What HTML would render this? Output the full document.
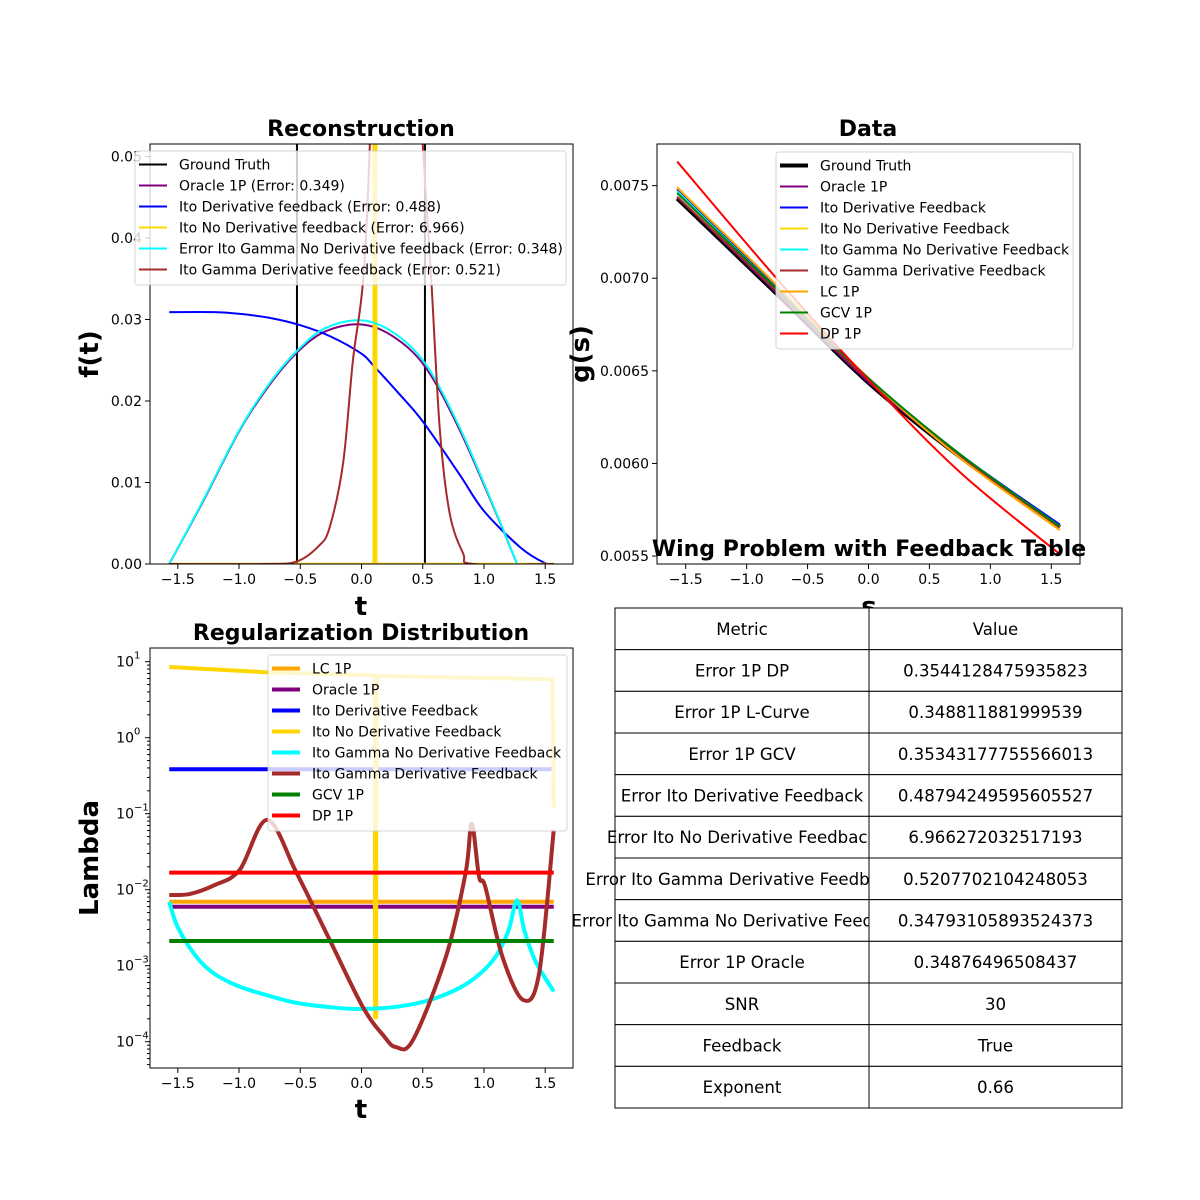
<!DOCTYPE html>
<html><head><meta charset="utf-8"><style>
html,body{margin:0;padding:0;background:#fff;}
svg{display:block;font-family:"DejaVu Sans","Liberation Sans",sans-serif;}
</style></head><body>
<svg id="fig" width="1200" height="1200" viewBox="0 0 1200 1200" xmlns="http://www.w3.org/2000/svg">
<rect width="1200" height="1200" fill="#fff"/>
</svg>
<script>
// ---------- data ----------
const tGT = [-1.57,-0.527,-0.527,0.518,0.518,1.57];
const fGT = [0,0,0.07,0.07,0,0];
const tOracle = [-1.57,-1.3,-0.995,-0.75,-0.53,-0.3,-0.01,0.25,0.52,0.8,1.1,1.27];
const fOracle = [0,0.0075,0.0164,0.0220,0.0259,0.0285,0.0294,0.0280,0.0242,0.0165,0.0062,0];
const fCyan   = [0,0.0076,0.0165,0.0222,0.0261,0.0289,0.0299,0.0285,0.0246,0.0168,0.0063,0];
const tBlue = [-1.57,-1.2,-1.0,-0.75,-0.5,-0.25,0,0.1,0.3,0.5,0.8,1.0,1.3,1.5,1.57];
const fBlue = [0.0309,0.0309,0.0307,0.0302,0.0293,0.0279,0.0258,0.0243,0.021,0.0175,0.011,0.0065,0.002,0.0001,0];
const tYellow = [-1.57,0.10,0.10,0.12,0.12,1.57];
const fYellow = [0,0,0.07,0.07,0,0];
const tBrown = [-1.57,-0.8,-0.53,-0.35,-0.26,-0.15,-0.07,0.013,0.068,0.15,0.28,0.4,0.5,0.57,0.64,0.72,0.83,0.91,1.57];
const fBrown = [0,0,0.0003,0.0022,0.0045,0.0124,0.025,0.0348,0.0515,0.09,0.1,0.08,0.0515,0.0348,0.0164,0.0062,0.0013,0,0];

const sData = [-1.57,-0.75,0,0.75,1.57];
const gGT   = [0.00743,0.006913,0.006435,0.006036,0.005657];
const gOracle=[0.00744,0.00692,0.00644,0.00604,0.005655];
const gBlue = [0.00748,0.00695,0.00646,0.00605,0.00567];
const gYellow=[0.00749,0.00696,0.00646,0.00604,0.00564];
const gCyan = [0.00747,0.00694,0.00646,0.00605,0.00566];
const gBrown= [0.00744,0.00693,0.00645,0.00604,0.005655];
const gLC   = [0.00749,0.00696,0.00646,0.00603,0.00564];
const gGCV  = [0.00746,0.00694,0.00646,0.00605,0.00566];
const gDP   = [0.00763,0.006996,0.006451,0.005953,0.00551];

const lamT = [-1.57,1.57];
const lamLC = [0.00695,0.00695];
const lamOracle = [0.00597,0.00597];
const lamBlue = [0.384,0.384];
const lamGCV = [0.00211,0.00211];
const lamDP = [0.0168,0.0168];
const tYel = [-1.57,-0.8,0.1,0.11,0.11,0.12,0.12,0.8,1.56,1.57];
const lamYel = [8.5,7.3,6.6,6.6,0.00021,0.00021,6.5,6.2,5.87,0.12];
const tCy = [-1.57,-1.5,-1.35,-1.2,-0.995,-0.75,-0.53,-0.25,-0.01,0.3,0.56,0.8,0.97,1.1,1.2,1.27,1.33,1.42,1.57];
const lamCy = [0.00695,0.0032,0.00132,0.00078,0.00053,0.0004,0.000324,0.000284,0.000269,0.00029,0.000355,0.00051,0.00079,0.00135,0.0029,0.00724,0.0029,0.00115,0.000457];
const tBr = [-1.57,-1.4,-1.2,-0.995,-0.77,-0.53,-0.26,0.01,0.18,0.28,0.42,0.69,0.85,0.90,0.96,1.01,1.15,1.32,1.45,1.57];
const lamBr = [0.0085,0.0088,0.0115,0.0182,0.083,0.0166,0.00219,0.000288,0.00012,0.0000851,0.000105,0.00132,0.0166,0.074,0.0148,0.011,0.00132,0.000355,0.00079,0.0617];

const xTicks = [-1.5,-1.0,-0.5,0.0,0.5,1.0,1.5];
const fTicks = [0,0.01,0.02,0.03,0.04,0.05];
const gTicks = [0.0055,0.0060,0.0065,0.0070,0.0075];
const lamTicks = [-4,-3,-2,-1,0,1];
const tableMetrics = ["Metric","Error 1P DP","Error 1P L-Curve","Error 1P GCV","Error Ito Derivative Feedback","Error Ito No Derivative Feedback","Error Ito Gamma Derivative Feedback","Error Ito Gamma No Derivative Feedback","Error 1P Oracle","SNR","Feedback","Exponent"];
const tableValues = ["Value","0.3544128475935823","0.348811881999539","0.35343177755566013","0.48794249595605527","6.966272032517193","0.5207702104248053","0.34793105893524373","0.34876496508437","30","True","0.66"];

// ---------- helpers ----------
const NS="http://www.w3.org/2000/svg";
const fig=document.getElementById('fig');
function el(tag,attrs,parent,text){const e=document.createElementNS(NS,tag);for(const k in attrs)e.setAttribute(k,attrs[k]);if(text!==undefined)e.textContent=text;(parent||fig).appendChild(e);return e;}
function fmt(v,d){return (v<0?'\u2212':'')+Math.abs(v).toFixed(d);}

function axes(id,x0,y0,w,h,xmin,xmax,ymin,ymax,ylog){
  const g=el('g',{});
  
  
  const clip=el('clipPath',{id:id+'-clip'},g);el('rect',{x:x0,y:y0,width:w,height:h},clip);
  const X=v=>x0+(v-xmin)/(xmax-xmin)*w;
  const Y=v=>{const t=ylog?Math.log10(v):v;return y0+h-(t-ymin)/(ymax-ymin)*h;};
  const plot=el('g',{'clip-path':'url(#'+id+'-clip)'},g);
  return {g,X,Y,plot,x0,y0,w,h};
}
function line(ax,xs,ys,color,width,name,smooth){
  const P=xs.map((x,i)=>[ax.X(x),ax.Y(ys[i])]);
  let d='M'+P[0][0].toFixed(2)+','+P[0][1].toFixed(2);
  for(let i=0;i<P.length-1;i++){
    if(!smooth){d+='L'+P[i+1][0].toFixed(2)+','+P[i+1][1].toFixed(2);continue;}
    const p0=P[Math.max(0,i-1)],p1=P[i],p2=P[i+1],p3=P[Math.min(P.length-1,i+2)];
    const c1=[p1[0]+(p2[0]-p0[0])/6,p1[1]+(p2[1]-p0[1])/6];
    const c2=[p2[0]-(p3[0]-p1[0])/6,p2[1]-(p3[1]-p1[1])/6];
    d+='C'+c1[0].toFixed(2)+','+c1[1].toFixed(2)+' '+c2[0].toFixed(2)+','+c2[1].toFixed(2)+' '+p2[0].toFixed(2)+','+p2[1].toFixed(2);
  }
  const p=el('path',{d:d,fill:'none',stroke:color,'stroke-width':width,'stroke-linejoin':'round'},ax.plot);
  
  
}
function frame(ax){el('rect',{x:ax.x0,y:ax.y0,width:ax.w,height:ax.h,fill:'none',stroke:'#000','stroke-width':1},ax.g);}
function xticks(ax,ticks){
  ticks.forEach(v=>{const x=ax.X(v);el('line',{x1:x,x2:x,y1:ax.y0+ax.h,y2:ax.y0+ax.h+5,stroke:'#000'},ax.g);
  const t=el('text',{x:x,y:ax.y0+ax.h+20,'font-size':14,'text-anchor':'middle'},ax.g,fmt(v,1));
  });
}
function yticks(ax,ticks,d){
  ticks.forEach(v=>{const y=ax.Y(v);el('line',{x1:ax.x0-5,x2:ax.x0,y1:y,y2:y,stroke:'#000'},ax.g);
  const t=el('text',{x:ax.x0-8,y:y+5,'font-size':14,'text-anchor':'end'},ax.g,v.toFixed(d));
  });
}
function legend(x,y,w,rowH,items,lw,name){
  const g=el('g',{});
  
  
  el('rect',{x:x,y:y,width:w,height:rowH*items.length+8,rx:3,fill:'#fff','fill-opacity':0.8,stroke:'#ccc','stroke-opacity':0.8},g);
  items.forEach((it,i)=>{const cy=y+4+rowH*(i+0.5)-1;
    el('line',{x1:x+4,x2:x+32,y1:cy,y2:cy,stroke:it[1],'stroke-width':it[2]||lw},g);
    const t=el('text',{x:x+44,y:cy+5,'font-size':14},g,it[0]);
    });
}
function title(x,y,s,size,name){const t=el('text',{x:x,y:y,'font-size':size,'font-weight':'bold','text-anchor':'middle'},fig,s);
  return t;}

// ---------- reconstruction ----------
const a1=axes('reconstruction',150,144,423,420,-1.727,1.727,0,0.05153,false);
line(a1,tGT,fGT,'#000',2,'ground-truth-line',false);
line(a1,tOracle,fOracle,'purple',2,'oracle-line',true);
line(a1,tBlue,fBlue,'blue',2,'ito-derivative-line',true);
line(a1,tYellow,fYellow,'gold',2.5,'ito-no-derivative-line',false);
line(a1,tOracle,fCyan,'cyan',2,'gamma-no-derivative-line',true);
line(a1,tBrown,fBrown,'brown',2,'gamma-derivative-line',true);
frame(a1);xticks(a1,xTicks);yticks(a1,fTicks,2);
legend(135,151,431,21,[['Ground Truth','#000'],['Oracle 1P (Error: 0.349)','purple'],['Ito Derivative feedback (Error: 0.488)','blue'],['Ito No Derivative feedback (Error: 6.966)','gold'],['Error Ito Gamma No Derivative feedback (Error: 0.348)','cyan'],['Ito Gamma Derivative feedback (Error: 0.521)','brown']],2,'reconstruction-legend');
title(361,136,'Reconstruction',22,'reconstruction-title');
title(361,615,'t',26,'x-axis-title');
let t1=title(0,0,'f(t)',26,'y-axis-title');t1.setAttribute('transform','translate(98,354) rotate(-90)');

// ---------- data ----------
const a2=axes('data',657,144,423,420,-1.7355,1.7355,0.005457,0.0077249,false);
line(a2,sData,gGT,'#000',4,'data-ground-truth-line',true);
line(a2,sData,gOracle,'purple',2,'data-oracle-line',true);
line(a2,sData,gBlue,'blue',2,'data-ito-derivative-line',true);
line(a2,sData,gYellow,'gold',2,'data-ito-no-derivative-line',true);
line(a2,sData,gCyan,'cyan',2,'data-gamma-no-derivative-line',true);
line(a2,sData,gBrown,'brown',2,'data-gamma-derivative-line',true);
line(a2,sData,gLC,'orange',2,'data-lc-line',true);
line(a2,sData,gGCV,'green',2,'data-gcv-line',true);
line(a2,sData,gDP,'red',2,'data-dp-line',true);
frame(a2);xticks(a2,xTicks);yticks(a2,gTicks,4);
legend(776,152,297,21,[['Ground Truth','#000',4],['Oracle 1P','purple'],['Ito Derivative Feedback','blue'],['Ito No Derivative Feedback','gold'],['Ito Gamma No Derivative Feedback','cyan'],['Ito Gamma Derivative Feedback','brown'],['LC 1P','orange'],['GCV 1P','green'],['DP 1P','red']],2,'data-legend');
title(868,136,'Data',22,'data-title');
title(869,615,'s',26,'data-x-axis-title');
let t2=title(0,0,'g(s)',26,'data-y-axis-title');t2.setAttribute('transform','translate(589,354) rotate(-90)');

// ---------- regularization ----------
const a3=axes('regularization',150,648,423,420,-1.727,1.727,-4.346,1.180,true);
line(a3,lamT,lamLC,'orange',4,'lambda-lc-line',false);
line(a3,lamT,lamOracle,'purple',4,'lambda-oracle-line',false);
line(a3,lamT,lamBlue,'blue',4,'lambda-ito-derivative-line',false);
line(a3,tYel,lamYel,'gold',4,'lambda-ito-no-derivative-line',false);
line(a3,tCy,lamCy,'cyan',4,'lambda-gamma-no-derivative-line',true);
line(a3,tBr,lamBr,'brown',4,'lambda-gamma-derivative-line',true);
line(a3,lamT,lamGCV,'green',4,'lambda-gcv-line',false);
line(a3,lamT,lamDP,'red',4,'lambda-dp-line',false);
frame(a3);xticks(a3,xTicks);
for(let d=-5;d<=1;d++){for(let m=2;m<=9;m++){const v=m*Math.pow(10,d);const y=a3.Y(v);if(y>=a3.y0&&y<=a3.y0+a3.h)el('line',{x1:a3.x0-3,x2:a3.x0,y1:y,y2:y,stroke:'#000'},a3.g);}}
lamTicks.forEach(e=>{const y=a3.Y(Math.pow(10,e));el('line',{x1:a3.x0-5,x2:a3.x0,y1:y,y2:y,stroke:'#000'},a3.g);
  const t=el('text',{x:a3.x0-16,y:y+5,'font-size':14,'text-anchor':'end'},a3.g,'10');
  
  el('text',{x:a3.x0-16,y:y-3,'font-size':10},a3.g,e<0?'\u2212'+(-e):String(e));});
legend(268,655,299,21,[['LC 1P','orange'],['Oracle 1P','purple'],['Ito Derivative Feedback','blue'],['Ito No Derivative Feedback','gold'],['Ito Gamma No Derivative Feedback','cyan'],['Ito Gamma Derivative Feedback','brown'],['GCV 1P','green'],['DP 1P','red']],4,'regularization-legend');
title(361,640,'Regularization Distribution',22,'regularization-title');
title(361,1118,'t',26,'lambda-x-axis-title');
let t3=title(0,0,'Lambda',26,'lambda-y-axis-title');t3.setAttribute('transform','translate(98,858) rotate(-90)');

// ---------- table ----------
title(869,556,'Wing Problem with Feedback Table',22,'table-title');
const tg=el('g',{});


const rowH=500/12, tx0=615, tx1=869, tx2=1122, ty0=608;
tableMetrics.forEach((m,i)=>{const y=ty0+i*rowH;
  el('rect',{x:tx0,y:y,width:tx1-tx0,height:rowH,fill:'#fff',stroke:'#000'},tg);
  const t=el('text',{x:(tx0+tx1)/2,y:y+rowH/2+6,'font-size':16.6,'text-anchor':'middle'},tg,m);
  });
tableValues.forEach((v,i)=>{const y=ty0+i*rowH;
  el('rect',{x:tx1,y:y,width:tx2-tx1,height:rowH,fill:'#fff',stroke:'#000'},tg);
  const t=el('text',{x:(tx1+tx2)/2,y:y+rowH/2+6,'font-size':16.6,'text-anchor':'middle'},tg,v);
  });
</script>
</body></html>
